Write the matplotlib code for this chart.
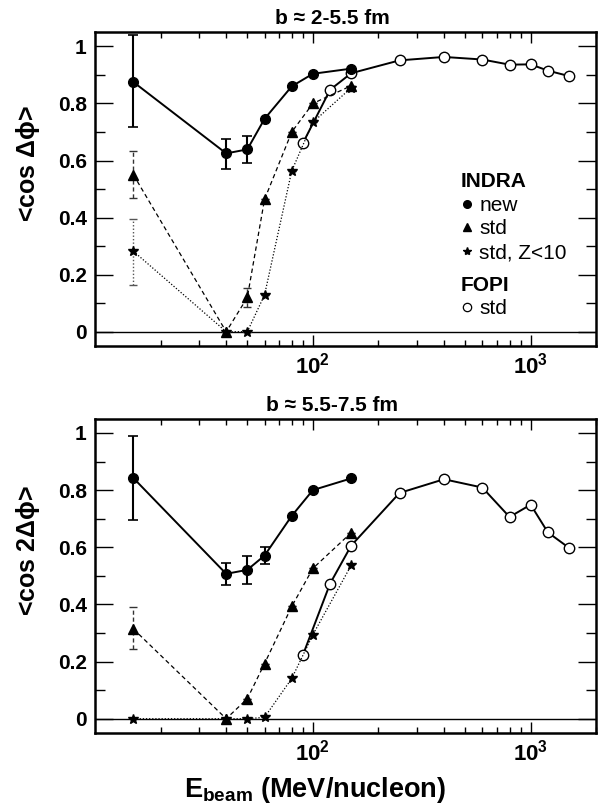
import matplotlib
matplotlib.use('Agg')
import matplotlib.pyplot as plt
from matplotlib.lines import Line2D
from matplotlib.ticker import FixedLocator, NullFormatter
import numpy as np

plt.rcParams['font.family'] = ['Liberation Sans', 'DejaVu Sans']
plt.rcParams['font.weight'] = 'bold'
plt.rcParams['mathtext.fontset'] = 'custom'
plt.rcParams['mathtext.rm'] = 'Liberation Sans'
plt.rcParams['mathtext.bf'] = 'Liberation Sans:bold'

# beam energies (MeV/nucleon)
e_indra = [15, 40, 50, 60, 80, 100, 150]
e_fopi = [90, 120, 150, 250, 400, 600, 800, 1000, 1200, 1500]

# top panel: <cos dphi>, b = 2-5.5 fm
new1 = [0.875, 0.625, 0.639, 0.746, 0.86, 0.904, 0.922]
new1_up = [0.164, 0.051, 0.048, 0, 0, 0, 0]
new1_dn = [0.159, 0.054, 0.048, 0, 0, 0, 0]
std1 = [0.55, 0.0, 0.12, 0.464, 0.70, 0.80, 0.862]
std1_up = [0.085, 0, 0.035, 0, 0, 0, 0]
std1_dn = [0.081, 0, 0.035, 0, 0, 0, 0]
z10_1 = [0.282, 0.0, 0.0, 0.129, 0.564, 0.734, 0.855]
z10_1_up = [0.113, 0, 0, 0, 0, 0, 0]
z10_1_dn = [0.117, 0, 0, 0, 0, 0, 0]
fopi1 = [0.661, 0.848, 0.906, 0.951, 0.963, 0.954, 0.936, 0.937, 0.915, 0.896]

# bottom panel: <cos 2dphi>, b = 5.5-7.5 fm
new2 = [0.842, 0.507, 0.521, 0.571, 0.71, 0.80, 0.841]
new2_up = [0.148, 0.037, 0.048, 0.029, 0, 0, 0]
new2_dn = [0.147, 0.038, 0.048, 0.029, 0, 0, 0]
std2 = [0.314, 0.0, 0.07, 0.193, 0.393, 0.526, 0.651]
std2_up = [0.077, 0, 0, 0, 0, 0, 0]
std2_dn = [0.07, 0, 0, 0, 0, 0, 0]
z10_2 = [0.0, 0.0, 0.0, 0.005, 0.141, 0.294, 0.537]
fopi2 = [0.223, 0.473, 0.606, 0.79, 0.838, 0.809, 0.706, 0.749, 0.652, 0.598]

fig = plt.figure(figsize=(5.98, 8.09), dpi=100)
ax1 = fig.add_axes([0.159, 0.5723, 0.838, 0.388])
ax2 = fig.add_axes([0.159, 0.0939, 0.838, 0.3886])


def panel(ax, new, new_err, std, std_err, z10, z10_err, fopi, title, ylabel):
    ax.axhline(0, color='black', lw=1.0, zorder=1)
    # error bars
    ax.errorbar(e_indra, new, yerr=new_err, fmt='none', ecolor='black',
                elinewidth=1.5, capsize=3.5, capthick=1.2)
    eb = ax.errorbar(e_indra, std, yerr=std_err, fmt='none', ecolor='#333333',
                     elinewidth=1.0, capsize=3, capthick=1.0)
    eb[2][0].set_linestyle((0, (3, 2)))
    if z10_err is not None:
        eb = ax.errorbar(e_indra, z10, yerr=z10_err, fmt='none', ecolor='#555555',
                         elinewidth=1.0, capsize=3, capthick=1.0)
        eb[2][0].set_linestyle((0, (1, 1.5)))
    # series
    ax.plot(e_fopi, fopi, color='black', lw=1.4, marker='o', ms=7.5,
            mfc='white', mec='black', mew=1.0, zorder=3)
    ax.plot(e_indra, z10, color='black', lw=0.9, ls=(0, (1, 1.5)),
            marker='*', ms=7.5, zorder=4)
    ax.plot(e_indra, std, color='black', lw=0.9, ls=(0, (3.5, 2.5)),
            marker='^', ms=7, zorder=4)
    ax.plot(e_indra, new, color='black', lw=1.4, marker='o', ms=7, zorder=5)

    ax.set_xscale('log')
    ax.set_xlim(10, 2000)
    ax.set_ylim(-0.05, 1.05)
    ax.set_yticks([0, 0.2, 0.4, 0.6, 0.8, 1.0])
    ax.set_yticklabels(['0', '0.2', '0.4', '0.6', '0.8', '1'])
    ax.yaxis.set_minor_locator(FixedLocator([0.1, 0.3, 0.5, 0.7, 0.9]))
    ax.set_xticks([100, 1000])
    ax.set_xticklabels([r'$\mathbf{10^{2}}$', r'$\mathbf{10^{3}}$'])
    ax.xaxis.set_minor_formatter(NullFormatter())
    ax.tick_params(which='both', direction='in', top=True, right=True)
    ax.tick_params(axis='y', which='major', length=13, width=1.0,
                   labelsize=15, pad=6)
    ax.tick_params(axis='y', which='minor', length=7, width=1.0)
    ax.tick_params(axis='x', which='major', length=8, width=1.0,
                   labelsize=16, pad=5)
    ax.tick_params(axis='x', which='minor', length=4, width=1.0)
    for s in ax.spines.values():
        s.set_linewidth(1.8)
    ax.text(0.473, 1.012, title, transform=ax.transAxes, ha='center',
            va='bottom', fontsize=15, fontweight='bold')
    ax.set_ylabel(ylabel, fontsize=18, fontweight='bold')
    ax.yaxis.set_label_coords(-0.106, 0.58)


panel(ax1, new1, [new1_dn, new1_up], std1, [std1_dn, std1_up],
      z10_1, [z10_1_dn, z10_1_up], fopi1,
      'b \u2248 2-5.5 fm', r'<cos $\mathrm{\Delta\phi}$>')
panel(ax2, new2, [new2_dn, new2_up], std2, [std2_dn, std2_up],
      z10_2, None, fopi2,
      'b \u2248 5.5-7.5 fm', r'<cos 2$\mathrm{\Delta\phi}$>')

ax2.set_xlabel(r'E$_{\mathbf{beam}}$ (MeV/nucleon)', fontsize=19.5,
               fontweight='bold')
ax2.xaxis.set_label_coords(0.44, -0.135)

# legend (top panel)
h_new = Line2D([], [], color='black', marker='o', ls='none', ms=5.5)
h_std = Line2D([], [], color='black', marker='^', ls='none', ms=5.5)
h_z10 = Line2D([], [], color='black', marker='*', ls='none', ms=6)
h_fopi = Line2D([], [], color='black', marker='o', ls='none', ms=6,
                mfc='white', mew=0.9)
leg1 = ax1.legend([h_new, h_std, h_z10], ['new', 'std', 'std, Z<10'],
                  title='INDRA', loc='upper left',
                  bbox_to_anchor=(0.70, 0.60), frameon=False,
                  handlelength=0.6, handletextpad=0.3, labelspacing=0.22,
                  borderpad=0.2, alignment='left',
                  prop={'size': 15, 'weight': 'normal'},
                  title_fontproperties={'size': 15, 'weight': 'bold'})
ax1.add_artist(leg1)
ax1.legend([h_fopi], ['std'], title='FOPI', loc='upper left',
           bbox_to_anchor=(0.70, 0.27), frameon=False,
           handlelength=0.6, handletextpad=0.3, labelspacing=0.22,
           borderpad=0.2, alignment='left',
           prop={'size': 15, 'weight': 'normal'},
           title_fontproperties={'size': 15, 'weight': 'bold'})

plt.savefig('out.png', dpi=100)
